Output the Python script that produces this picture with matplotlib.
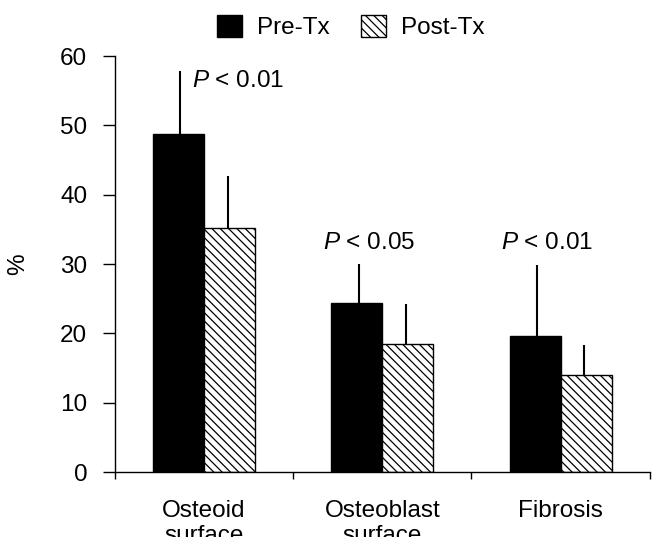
import numpy as np
import matplotlib
matplotlib.use("Agg")
import matplotlib.pyplot as plt

# Histomorphometry before and after treatment (mean + SD)
categories = ["Osteoid\nsurface", "Osteoblast\nsurface", "Fibrosis"]
pre_tx = [48.8, 24.4, 19.6]
pre_sd = [9.1, 5.6, 10.3]
post_tx = [35.2, 18.5, 14.0]
post_sd = [7.5, 5.7, 4.3]
p_labels = ["< 0.01", "< 0.05", "< 0.01"]

plt.rcParams["font.family"] = ["Liberation Sans", "DejaVu Sans"]
plt.rcParams["mathtext.fontset"] = "custom"
plt.rcParams["mathtext.rm"] = "Liberation Sans"
plt.rcParams["mathtext.it"] = "Liberation Sans:italic"
plt.rcParams["hatch.linewidth"] = 0.9

FS = 17.5

fig = plt.figure(figsize=(6.52, 5.37), dpi=100)
ax = fig.add_axes([0.1764, 0.121, 0.82, 0.7747])

x = np.arange(len(categories)) + 0.5
w = 0.286

ax.bar(x - w / 2, pre_tx, w, color="black", edgecolor="black", linewidth=1, label="Pre-Tx")
ax.bar(x + w / 2, post_tx, w, color="white", edgecolor="black", linewidth=1,
       hatch="\\\\\\\\", label="Post-Tx")

# upper error bars only, no caps
ax.errorbar(x - w / 2 + 0.01, pre_tx, yerr=[np.zeros(3), pre_sd], fmt="none",
            ecolor="black", elinewidth=1.5, capsize=0)
ax.errorbar(x + w / 2 - 0.01, post_tx, yerr=[np.zeros(3), post_sd], fmt="none",
            ecolor="black", elinewidth=1.5, capsize=0)

# significance labels
ax.text(0.43, pre_tx[0] + pre_sd[0] - 1.5, r"$P$ " + p_labels[0],
        fontsize=FS, ha="left", va="center")
for i in (1, 2):
    top = max(pre_tx[i] + pre_sd[i], post_tx[i] + post_sd[i])
    ax.text(x[i] - 0.075, top + 3.1, r"$P$ " + p_labels[i], fontsize=FS,
            ha="center", va="center")

ax.set_xlim(0, 3)
ax.set_ylim(0, 60)
ax.set_yticks(np.arange(0, 61, 10))
ax.set_xticks([0, 1, 2, 3])
ax.set_xticklabels([])
ax.set_xticks(x, minor=True)
ax.set_xticklabels(categories, minor=True)
ax.tick_params(axis="x", which="minor", length=0, pad=20, labelsize=FS)
ax.tick_params(axis="x", which="major", length=5, width=1, direction="out")
ax.tick_params(axis="y", length=9, width=1, pad=11, labelsize=FS)

for s in ("top", "right"):
    ax.spines[s].set_visible(False)
ax.spines["left"].set_linewidth(1)
ax.spines["bottom"].set_linewidth(1)

ax.set_ylabel("%", fontsize=FS, labelpad=22)

fig.legend(loc="center", bbox_to_anchor=(0.5376, 0.95), ncol=2, frameon=False, fontsize=FS,
           handlelength=1.03, handleheight=1.0, handletextpad=0.62, columnspacing=1.3)

fig.savefig("out.png", dpi=100)
